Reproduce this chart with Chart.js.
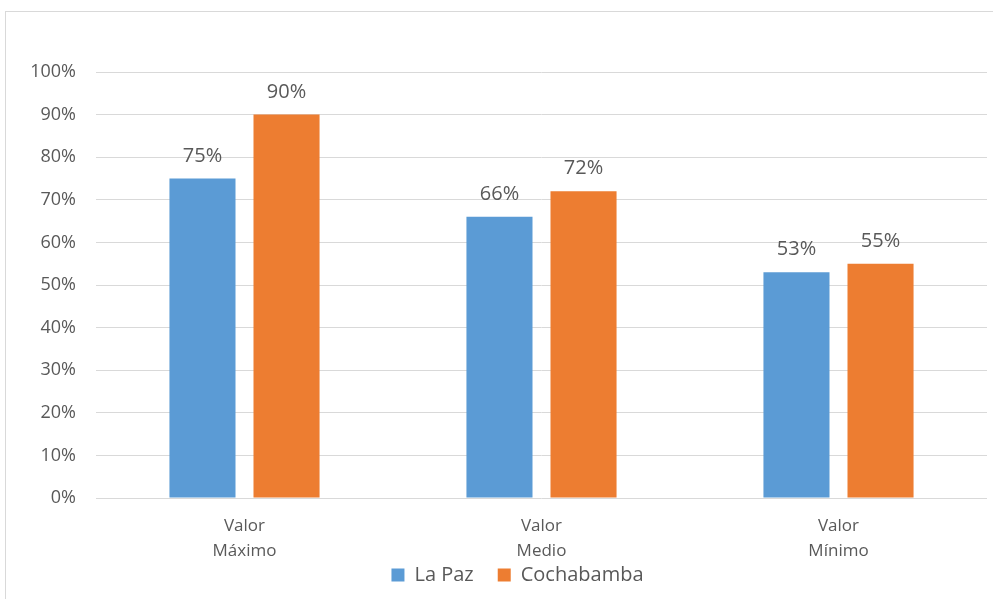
<!DOCTYPE html>
<html>
<head>
<meta charset="utf-8">
<script src="https://cdn.jsdelivr.net/npm/chart.js@4/dist/chart.umd.min.js"></script>
<style>
  html, body { margin: 0; padding: 0; background: #fff; }
  #wrap { position: relative; width: 993px; height: 599px; overflow: hidden; }
</style>
</head>
<body>
<div id="wrap"><canvas id="mycanvas" width="993" height="599"></canvas></div>
<script>
var categorias = [['Valor', 'Máximo'], ['Valor', 'Medio'], ['Valor', 'Mínimo']];
var laPaz = [75, 66, 53];
var cochabamba = [90, 72, 55];
var yTicks = [0, 10, 20, 30, 40, 50, 60, 70, 80, 90, 100];

var gris = '#595959';
var fuente = "'Open Sans', 'Liberation Sans', sans-serif";

// marco del grafico
var marco = {
	id: 'marco',
	beforeDraw: function(chart) {
		var c = chart.ctx;
		c.save();
		c.strokeStyle = '#d9d9d9';
		c.lineWidth = 1;
		c.strokeRect(5.5, 11.5, 1100, 1000);
		c.restore();
	}
};

// la leyenda va pegada debajo de las etiquetas del eje x
var posLeyenda = {
	id: 'posLeyenda',
	afterLayout: function(chart) {
		var lg = chart.legend;
		var h = lg.bottom - lg.top;
		lg.top = 541;
		lg.bottom = 541 + h;
		lg.left += 24;
		lg.right += 24;
	}
};

// etiquetas de valor encima de cada barra
var etiquetas = {
	id: 'etiquetas',
	afterDatasetsDraw: function(chart) {
		var c = chart.ctx;
		c.save();
		c.font = '20px ' + fuente;
		c.fillStyle = gris;
		c.textAlign = 'center';
		c.textBaseline = 'alphabetic';
		chart.data.datasets.forEach(function(ds, i) {
			chart.getDatasetMeta(i).data.forEach(function(bar, j) {
				c.fillText(ds.data[j] + '%', bar.x, bar.y - 17);
			});
		});
		c.restore();
	}
};

var chartdata = {
	labels: categorias,
	datasets: [
		{
			label: 'La Paz',
			backgroundColor: '#5b9bd5',
			data: laPaz
		},
		{
			label: 'Cochabamba',
			backgroundColor: '#ed7d31',
			data: cochabamba
		}
	]
};

var ctx = document.getElementById('mycanvas');

var barGraph = new Chart(ctx, {
	type: 'bar',
	data: chartdata,
	plugins: [marco, posLeyenda, etiquetas],
	options: {
		responsive: false,
		animation: false,
		events: [],
		layout: { padding: { left: 0, right: 6, top: 72, bottom: -35 } },
		datasets: {
			bar: { categoryPercentage: 0.566, barPercentage: 0.786 }
		},
		plugins: {
			legend: {
				position: 'bottom',
				labels: {
					boxWidth: 13,
					boxHeight: 13,
					padding: 24,
					color: gris,
					font: { size: 20, family: fuente }
				}
			},
			tooltip: { enabled: false }
		},
		scales: {
			x: {
				grid: { display: false, drawTicks: false },
				border: { display: false },
				ticks: {
					color: gris,
					padding: 16,
					font: { size: 17, family: fuente, lineHeight: '25px' }
				}
			},
			y: {
				min: 0,
				max: 100,
				afterBuildTicks: function(scale) {
					scale.ticks = yTicks.map(function(v) { return { value: v }; });
				},
				afterFit: function(scale) { scale.width = 96; },
				grid: { color: '#d9d9d9', lineWidth: 1, drawTicks: false },
				border: { display: false },
				ticks: {
					color: gris,
					padding: 20,
					font: { size: 18, family: fuente },
					callback: function(v) { return v + '%'; }
				}
			}
		}
	}
});
</script>
</body>
</html>
